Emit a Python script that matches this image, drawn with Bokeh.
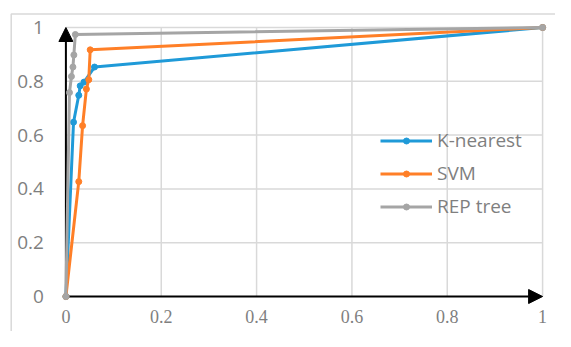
from bokeh.plotting import figure
from bokeh.models import Range1d, Arrow, NormalHead, Legend, LegendItem
from bokeh.core.properties import value
from bokeh.embed import file_html
from bokeh.resources import INLINE

# ---- data ----
knn_fpr = [0, 0.016, 0.027, 0.030, 0.038, 0.060, 1]
knn_tpr = [0, 0.648, 0.748, 0.783, 0.797, 0.853, 1]
svm_fpr = [0, 0.027, 0.035, 0.043, 0.048, 0.051, 1]
svm_tpr = [0, 0.427, 0.635, 0.771, 0.806, 0.917, 1]
rep_fpr = [0, 0.0075, 0.0116, 0.0147, 0.0167, 0.0198, 1]
rep_tpr = [0, 0.758, 0.818, 0.853, 0.898, 0.974, 1]
series_names = ["K-nearest", "SVM", "REP tree"]
x_ticks = [0, 0.2, 0.4, 0.6, 0.8, 1]
x_tick_labels = ["0", "0.2", "0.4", "0.6", "0.8", "1"]
y_ticks = [0, 0.2, 0.4, 0.6, 0.8, 1]
y_tick_labels = ["0", "0.2", "0.4", "0.6", "0.8", "1"]

# ---- layout (canvas pixels) ----
W, H = 555, 331
X0, X1 = 65.4, 542.1     # canvas px of x=0 and x=1
Y0, Y1 = 296.0, 27.0     # canvas px (from top) of y=0 and y=1
sx = X1 - X0
sy = Y0 - Y1

def px2x(px):
    return (px - X0) / sx

def px2y(py):
    return (Y0 - py) / sy

p = figure(width=W, height=H, output_backend="svg", toolbar_location=None,
           x_range=Range1d(px2x(0), px2x(W)), y_range=Range1d(px2y(H), px2y(0)),
           min_border=0)
p.axis.visible = False
p.grid.visible = False
p.outline_line_color = None
p.background_fill_color = "white"
p.border_fill_color = "white"

grid_c = "#d9d9d9"
# outer chart border
p.line([px2x(10.7), px2x(10.7), px2x(W + 5)], [px2y(H + 5), px2y(13.4), px2y(13.4)],
       line_color=grid_c, line_width=1.5, level="image")

# gridlines
p.segment(x0=x_ticks[1:], y0=[0] * 5, x1=x_ticks[1:], y1=[1] * 5,
          line_color=grid_c, line_width=1.5, level="image")
p.segment(x0=[0] * 5, y0=y_ticks[1:], x1=[1] * 5, y1=y_ticks[1:],
          line_color=grid_c, line_width=1.5, level="image")

# axis arrows
p.add_layout(Arrow(x_start=0, y_start=0, x_end=0, y_end=1, line_color="black",
                   line_width=2, level="underlay",
                   end=NormalHead(size=14, fill_color="black", line_color="black", line_width=1)))
p.add_layout(Arrow(x_start=0, y_start=0, x_end=1, y_end=0, line_color="black",
                   line_width=2, level="underlay",
                   end=NormalHead(size=14, fill_color="black", line_color="black", line_width=1)))

# tick labels
p.text(x=[0] * len(y_ticks), y=y_ticks, text=y_tick_labels, x_offset=-22,
       text_align="right", text_baseline="middle", text_color="#7f7f7f",
       text_font=value("Open Sans"), text_font_size="19px")
p.text(x=x_ticks, y=[0] * len(x_ticks), text=x_tick_labels, y_offset=20,
       text_align="center", text_baseline="middle", text_color="#7f7f7f",
       text_font=value("Liberation Serif"), text_font_size="18px")

colors = ["#1f9ad8", "#ff7f27", "#a5a5a5"]
series = [(knn_fpr, knn_tpr), (svm_fpr, svm_tpr), (rep_fpr, rep_tpr)]
items = []
for (xs, ys), c, name in zip(series, colors, series_names):
    l = p.line(xs, ys, line_color=c, line_width=3)
    s = p.scatter(xs, ys, size=6, fill_color=c, line_color=c)
    items.append(LegendItem(label=name, renderers=[l, s]))

legend = Legend(items=items, location=(380, 110), padding=0, margin=0,
                spacing=3, glyph_width=52, glyph_height=15, label_height=30,
                label_standoff=5,
                label_text_font="Open Sans", label_text_font_size="19px",
                label_text_color="#7f7f7f", background_fill_alpha=0,
                border_line_alpha=0)
p.add_layout(legend)

open("out.html", "w").write(file_html(p, INLINE))
